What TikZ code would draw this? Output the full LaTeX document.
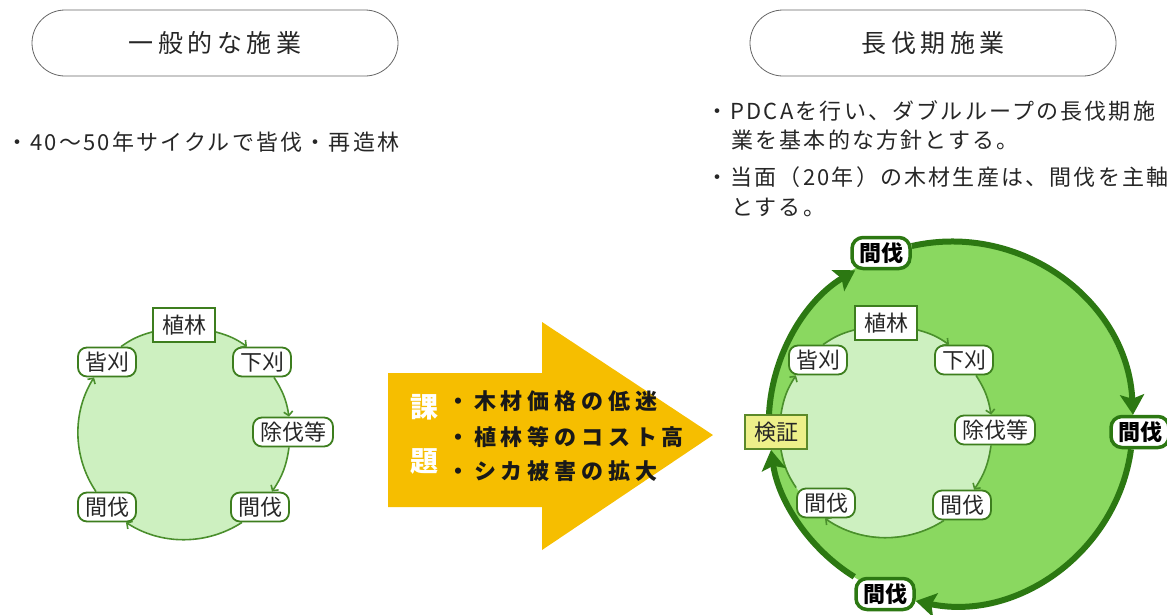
\documentclass[tikz,border=0pt]{standalone}
\usepackage{fontspec}
\setmainfont{Noto Sans CJK JP}
\newfontfamily\jp{Noto Sans CJK JP}
\newfontfamily\jpsp[LetterSpace=10]{Noto Sans CJK JP}
\newfontfamily\jptitle[LetterSpace=18]{Noto Sans CJK JP}
\newfontfamily\jpissue[LetterSpace=22]{Noto Sans CJK JP}
\usetikzlibrary{arrows.meta, calc}

\definecolor{lightleaf}{HTML}{CDF0C0}
\definecolor{midleaf}{HTML}{8AD860}
\definecolor{ringgreen}{HTML}{4A8F2C}
\definecolor{stageedge}{HTML}{3D7E1E}
\definecolor{loopgreen}{HTML}{2C7812}
\definecolor{checkfill}{HTML}{EEF08A}
\definecolor{checkedge}{HTML}{5C8A2A}
\definecolor{issueyellow}{HTML}{F6BE00}

\begin{document}
\begin{tikzpicture}[x=1pt, y=-1pt,
  every node/.style={font=\jp\fontsize{22}{26}\selectfont, text=black!85},
  headbox/.style={draw=black!60, line width=0.8pt, rounded corners=33pt,
    minimum width=366pt, minimum height=66pt,
    font=\jptitle\fontsize{25}{30}\selectfont},
  bodytext/.style={anchor=west, inner sep=0pt,
    font=\jpsp\fontsize{22}{26}\selectfont},
  stage/.style={draw=stageedge, line width=1.8pt, fill=white,
    rounded corners=9pt, inner xsep=7pt, inner ysep=0pt, minimum height=29pt},
  plantbox/.style={stage, sharp corners, minimum height=34pt, inner xsep=9pt},
  checkbox/.style={plantbox, fill=checkfill, draw=checkedge},
  cutbox/.style={stage, draw=loopgreen, line width=3.5pt, rounded corners=11pt,
    minimum height=31pt, text=black, font=\jp\bfseries\fontsize{22}{26}\selectfont},
  ringline/.style={draw=ringgreen, line width=1.6pt},
  ringarrow/.style={ringline, -{Straight Barb[length=4pt,width=9pt]}},
  looparrow/.style={draw=loopgreen, line width=6pt,
    -{Stealth[length=20pt,width=24pt,inset=4pt]}},
  issue/.style={anchor=west, inner sep=0pt, text=black!90,
    font=\jpissue\bfseries\fontsize{22}{26}\selectfont}
]
  \useasboundingbox (0,0) rectangle (1167,614);

  % headings
  \node[headbox] (hgen) at (215,43) {一般的な施業};
  \node[headbox] (hlong) at (933,43) {長伐期施業};

  \node[bodytext] (txtgen) at (6,142) {・40〜50年サイクルで皆伐・再造林};
  \node[bodytext] (txt1) at (706,111) {・PDCAを行い、ダブルループの長伐期施};
  \node[bodytext] (txt2) at (731,140) {業を基本的な方針とする。};
  \node[bodytext] (txt3) at (706,177) {・当面（20年）の木材生産は、間伐を主軸};
  \node[bodytext] (txt4) at (731,207) {とする。};

  % left cycle
  \fill[lightleaf] (184,433) circle[radius=106];
  \node[plantbox] (lplant) at (184,325) {植林};
  \node[stage] (lweed) at (262,362) {下刈};
  \node[stage] (lclean) at (293,432) {除伐等};
  \node[stage] (lthinb) at (260,507) {間伐};
  \node[stage] (lthina) at (107,507) {間伐};
  \node[stage] (lclear) at (107,362) {皆刈};

  \draw[ringarrow] ($(lplant.east)+(0,7)$) to[bend left=10] ($(lweed.north)+(-15,0)$);
  \draw[ringarrow] ($(lweed.south)+(12,0)$) to[bend left=12] ($(lclean.north)+(-4,0)$);
  \draw[ringarrow] ($(lclean.south)+(-4,0)$) to[bend left=13] ($(lthinb.north)+(12,0)$);
  \draw[ringarrow] ($(lthinb.south)+(-18,0)$) to[bend left=33, looseness=0.93] ($(lthina.south)+(19,0)$);
  \draw[ringarrow] ($(lthina.north)+(-11,0)$) to[bend left=33, looseness=0.93] ($(lclear.south)+(-13,0)$);
  \draw[ringline] ($(lclear.north)+(14,0)$) to[bend left=10] ($(lplant.west)+(0,7)$);

  % issues arrow
  \fill[issueyellow] (388,373) -- (542,373) -- (542,322) -- (713,435)
    -- (542,550) -- (542,507) -- (388,507) -- cycle;
  \node[text=white, font=\jp\bfseries\fontsize{28}{32}\selectfont] (qa) at (424,407) {課};
  \node[text=white, font=\jp\bfseries\fontsize{28}{32}\selectfont] (qb) at (424,461) {題};
  \node[issue] (is1) at (447,401) {・木材価格の低迷};
  \node[issue] (is2) at (447,437) {・植林等のコスト高};
  \node[issue] (is3) at (447,471) {・シカ被害の拡大};

  % right: double loop
  \fill[midleaf] (951,423) circle[radius=182];
  \fill[lightleaf] (886,431) circle[radius=106];

  \node[plantbox] (rplant) at (886,323) {植林};
  \node[stage] (rweed) at (964,360) {下刈};
  \node[stage] (rclean) at (995,430) {除伐等};
  \node[stage] (rthinb) at (962,505) {間伐};
  \node[stage] (rthina) at (826,503) {間伐};
  \node[stage] (rclear) at (818,360) {皆刈};
  \node[checkbox] (check) at (776,432) {検証};

  \node[cutbox] (cuttop) at (881,253) {間伐};
  \node[cutbox] (cutright) at (1140,432) {間伐};
  \node[cutbox] (cutbot) at (885,594) {間伐};

  \draw[ringarrow] ($(rplant.east)+(0,7)$) to[bend left=10] ($(rweed.north)+(-15,0)$);
  \draw[ringarrow] ($(rweed.south)+(12,0)$) to[bend left=12] ($(rclean.north)+(-4,0)$);
  \draw[ringarrow] ($(rclean.south)+(-4,0)$) to[bend left=13] ($(rthinb.north)+(12,0)$);
  \draw[ringarrow] ($(rthinb.south)+(-18,0)$) to[bend left=34, looseness=0.93] ($(rthina.south)+(-1,0)$);
  \draw[ringline] (rthina.north west) to[bend left=12] ($(check.south)+(5,0)$);
  \draw[ringarrow] ($(check.north)+(5,0)$) to[bend left=12] ($(rclear.south)+(-22,0)$);
  \draw[ringline] ($(rclear.north)+(5,0)$) to[bend left=10] ($(rplant.west)+(0,7)$);

  \draw[looparrow] ($(check.north)+(-7,0)$) to[bend left=28, looseness=0.9] ($(cuttop.south west)+(5,0)$);
  \draw[looparrow] ($(cuttop.east)+(0,-7)$) to[bend left=50, looseness=1.04] ($(cutright.north)+(-7,0)$);
  \draw[looparrow] ($(cutright.south)+(-9,0)$) to[bend left=47, looseness=1.01] ($(cutbot.east)+(0,7)$);
  \draw[looparrow] (cutbot.north west) to[bend left=25, looseness=0.88] ($(check.south)+(-5,0)$);
\end{tikzpicture}
\end{document}
